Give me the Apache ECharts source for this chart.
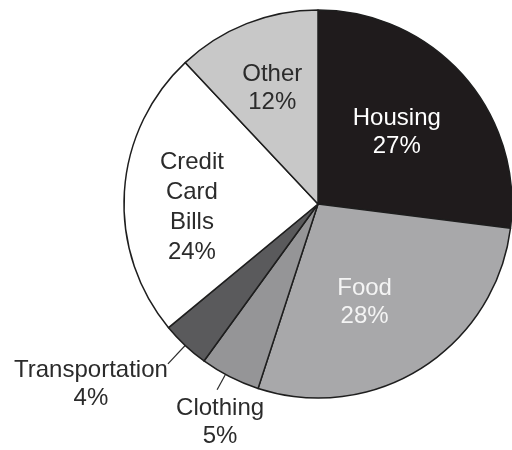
<!DOCTYPE html>
<html>
<head>
<meta charset="utf-8">
<script src="https://cdn.jsdelivr.net/npm/echarts@6/dist/echarts.min.js"></script>
<style>
  html, body { margin: 0; padding: 0; background: #ffffff; }
  #chart { width: 512px; height: 450px; }
</style>
</head>
<body>
<div id="chart"></div>
<script>
// Monthly spending shares, clockwise from 12 o'clock
const categories = ['Housing', 'Food', 'Clothing', 'Transportation', 'Credit Card Bills', 'Other'];
const labelNames = ['Housing', 'Food', 'Clothing', 'Transportation', 'Credit\nCard\nBills', 'Other'];
const shares = [27, 28, 5, 4, 24, 12];
const sliceColors = ['#1f1b1c', '#a8a8aa', '#959597', '#5a5a5c', '#ffffff', '#c8c8c8'];
const textColors = ['#ffffff', '#f4f4f4', '#2b2b2b', '#2b2b2b', '#2b2b2b', '#2b2b2b'];

// Pie geometry (pixels)
const CENTER = [318, 204];
const RADIUS = 194;

// Inside labels: [radius fraction, angle shift in degrees]
const insidePlacement = {
  'Housing': [0.55, -1],
  'Food': [0.56, 7],
  'Credit Card Bills': [0.65, -5],
  'Other': [0.64, 0]
};
// Outside labels: leader from/to radius fraction, angle shift, text-block centre offset from leader end
const outsidePlacement = {
  'Transportation': { from: 0.96, to: 1.13, shift: 0, dx: -77, dy: -7 },
  'Clothing': { from: 0.96, to: 1.09, shift: 1.5, dx: 3, dy: 5 }
};

const total = shares.reduce((a, b) => a + b, 0);
function midAngle(i) {
  let before = 0;
  for (let j = 0; j < i; j++) before += shares[j];
  return (before + shares[i] / 2) / total * 360;
}
function polar(deg, r) {
  const a = deg * Math.PI / 180;
  return [CENTER[0] + r * Math.sin(a), CENTER[1] - r * Math.cos(a)];
}

const data = categories.map((name, i) => {
  const outside = !!outsidePlacement[name];
  return {
    name: name,
    value: shares[i],
    itemStyle: { color: sliceColors[i] },
    label: {
      position: outside ? 'outside' : 'inside',
      color: textColors[i],
      lineHeight: name === 'Credit Card Bills' ? 30 : 28,
      formatter: labelNames[i] + '\n' + shares[i] + '%'
    },
    labelLine: { show: outside }
  };
});

const chart = echarts.init(document.getElementById('chart'), null, { renderer: 'canvas' });
chart.setOption({
  backgroundColor: '#ffffff',
  animation: false,
  series: [{
    type: 'pie',
    center: CENTER,
    radius: RADIUS,
    startAngle: 90,
    clockwise: true,
    avoidLabelOverlap: false,
    data: data,
    itemStyle: { borderColor: '#1e1e1e', borderWidth: 1.5 },
    emphasis: { disabled: true },
    label: {
      show: true,
      fontFamily: '"Liberation Sans", Arial, Helvetica, sans-serif',
      fontSize: 24,
      align: 'center'
    },
    labelLine: {
      show: false,
      length: 20,
      length2: 0,
      lineStyle: { color: '#2b2b2b', width: 1.2 }
    },
    labelLayout: function (p) {
      const i = p.dataIndex;
      const name = categories[i];
      const mid = midAngle(i);
      if (outsidePlacement[name]) {
        const o = outsidePlacement[name];
        const a = polar(mid + o.shift, RADIUS * o.from);
        const b = polar(mid + o.shift, RADIUS * o.to);
        return {
          x: b[0] + o.dx,
          y: b[1] + o.dy,
          align: 'center',
          verticalAlign: 'top',
          labelLinePoints: [a, b]
        };
      }
      const pl = insidePlacement[name];
      const pt = polar(mid + pl[1], RADIUS * pl[0]);
      return { x: pt[0], y: pt[1], align: 'center', verticalAlign: 'middle' };
    }
  }]
});
</script>
</body>
</html>
